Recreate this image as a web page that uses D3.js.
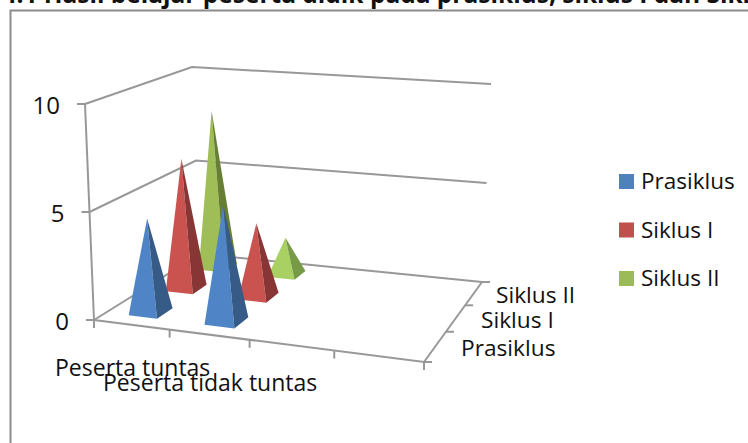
<!DOCTYPE html>
<html>
<head>
<meta charset="utf-8">
<script src="https://cdn.jsdelivr.net/npm/d3@7"></script>
<style>
body { margin: 0; background: #fff; }
text { font-family: "Open Sans", sans-serif; fill: #111; }
.wall { fill: none; stroke: #989898; stroke-width: 2px; }
</style>
</head>
<body>
<svg id="chart" width="748" height="443"></svg>
<script>

var categories = ["Peserta tuntas", "Peserta tidak tuntas", "", ""];
var seriesNames = ["Prasiklus", "Siklus I", "Siklus II"];
var prasiklus = [4.4, 5.4, null, null];
var siklus1 = [6.4, 3.55, null, null];
var siklus2 = [8.1, 1.85, null, null];
var valueTicks = [0, 5, 10];

var frontColors = ["#4f84c6", "#ca5350", "#9fbe58"];
var sideColors = ["#365b87", "#873535", "#677f35"];
var legendColors = ["#4f81bd", "#c0504d", "#9bbb59"];

var svg = d3.select("#chart");

// solve the square -> quad homography
function quadMap(q) {
  var dx1 = q[1][0] - q[2][0], dx2 = q[3][0] - q[2][0], sx = q[0][0] - q[1][0] + q[2][0] - q[3][0];
  var dy1 = q[1][1] - q[2][1], dy2 = q[3][1] - q[2][1], sy = q[0][1] - q[1][1] + q[2][1] - q[3][1];
  var det = dx1 * dy2 - dx2 * dy1;
  var g = (sx * dy2 - dx2 * sy) / det, h = (dx1 * sy - sx * dy1) / det;
  var a = q[1][0] - q[0][0] + g * q[1][0], b = q[3][0] - q[0][0] + h * q[3][0], c = q[0][0];
  var d = q[1][1] - q[0][1] + g * q[1][1], e = q[3][1] - q[0][1] + h * q[3][1], f = q[0][1];
  return function(u, v) {
    var w = g * u + h * v + 1;
    return [(a * u + b * v + c) / w, (d * u + e * v + f) / w];
  };
}

// front-left, front-right, back-right, back-left
var floor = quadMap([[94, 320], [424, 362], [482, 282], [200, 254]]);
var ceil = quadMap([[85, 104], [442, 134], [491, 84], [192, 67]]);

var xScale = d3.scaleBand().domain(d3.range(categories.length)).range([0, 1]);
var zScale = d3.scaleBand().domain(d3.range(seriesNames.length)).range([0, 1]);
var yScale = d3.scaleLinear().domain([0, 10]).range([0, 1]);

function project(u, v, val) {
  var p0 = floor(u, v), p1 = ceil(u, v), t = yScale(val);
  return [p0[0] + (p1[0] - p0[0]) * t, p0[1] + (p1[1] - p0[1]) * t];
}

var line = d3.line();
var wallGroup = svg.append("g");

// frame of the chart area, runs off the page
wallGroup.append("path").attr("d", "M10.5,443V10.5H748").attr("fill", "none").attr("stroke", "#8c8c8c").attr("stroke-width", 2);

// side wall, back wall and floor
valueTicks.forEach(function(t) {
  wallGroup.append("path").attr("class", "wall")
    .attr("d", line([project(0, 0, t), project(0, 1, t), project(1, 1, t)]));
  var p = project(0, 0, t);
  wallGroup.append("path").attr("class", "wall").attr("d", line([[p[0] - 8, p[1]], p]));
  svg.append("text").attr("x", p[0] - 25).attr("y", p[1] + 10)
    .attr("text-anchor", "end").attr("font-size", 24).text(t);
});
wallGroup.append("path").attr("class", "wall").attr("d", line([project(0, 0, 0), project(0, 0, 10)]));
wallGroup.append("path").attr("class", "wall").attr("d", line([project(0, 0, 0), project(1, 0, 0), project(1, 1, 0)]));

// ticks along the front and the side of the floor
d3.range(categories.length + 1).forEach(function(i) {
  var p = project(i / categories.length, 0, 0);
  wallGroup.append("path").attr("class", "wall").attr("d", line([p, [p[0], p[1] + 8]]));
});
d3.range(seriesNames.length + 1).forEach(function(i) {
  var p = project(1, i / seriesNames.length, 0);
  wallGroup.append("path").attr("class", "wall").attr("d", line([p, [p[0] + 8, p[1]]]));
});

var allSeries = [prasiklus, siklus1, siklus2];
var marks = [];
allSeries.forEach(function(vals, s) {
  vals.forEach(function(val, c) {
    if (val !== null) marks.push({ s: s, c: c, val: val });
  });
});
// paint back to front
marks.sort(function(a, b) { return b.s - a.s || a.c - b.c; });

var halfU = 0.19, halfV = 0.21;
var pyramids = svg.append("g").selectAll("g").data(marks).enter().append("g");

function corners(d) {
  var cu = xScale(d.c) + xScale.bandwidth() / 2, cv = zScale(d.s) + zScale.bandwidth() / 2;
  var hu = halfU * xScale.bandwidth(), hv = halfV * zScale.bandwidth();
  return {
    fl: project(cu - hu, cv - hv, 0),
    fr: project(cu + hu, cv - hv, 0),
    br: project(cu + hu, cv + hv, 0),
    top: project(cu, cv, d.val)
  };
}

// the small green pyramid catches more light in the picture
function isLit(d) { return d.s == 2 && d.c == 1; }

pyramids.append("path")
  .attr("fill", function(d) { return isLit(d) ? "#a9d062" : frontColors[d.s]; })
  .attr("d", function(d) { var k = corners(d); return line([k.fl, k.fr, k.top]) + "Z"; });
pyramids.append("path")
  .attr("fill", function(d) { return isLit(d) ? "#769a45" : sideColors[d.s]; })
  .attr("d", function(d) { var k = corners(d); return line([k.fr, k.br, k.top]) + "Z"; });

// category labels
svg.append("text").attr("x", 55).attr("y", 376).attr("font-size", 23).text(categories[0]);
svg.append("text").attr("x", 103).attr("y", 391).attr("font-size", 23).text(categories[1]);

// depth labels
var depthX = [461, 481, 496], depthY = [356, 328, 303];
seriesNames.forEach(function(n, i) {
  svg.append("text").attr("x", depthX[i]).attr("y", depthY[i]).attr("font-size", 22.7).text(n);
});

// legend
var legendY = d3.scalePoint().domain(seriesNames).range([181, 278]);
var legend = svg.append("g").selectAll("g").data(seriesNames).enter().append("g")
  .attr("transform", function(d) { return "translate(619," + legendY(d) + ")"; });
legend.append("rect").attr("y", -7).attr("width", 15).attr("height", 15)
  .attr("fill", function(d, i) { return legendColors[i]; });
legend.append("text").attr("x", 22).attr("y", 8).attr("font-size", 22.5).text(function(d) { return d; });

// title is cut by the top of the picture
svg.append("text").attr("x", -102).attr("y", 3)
  .attr("font-size", 24.5).attr("font-weight", "bold")
  .text("Gambar 4.1 Hasil belajar peserta didik pada prasiklus, siklus I dan Siklus II");

</script>
</body>
</html>
